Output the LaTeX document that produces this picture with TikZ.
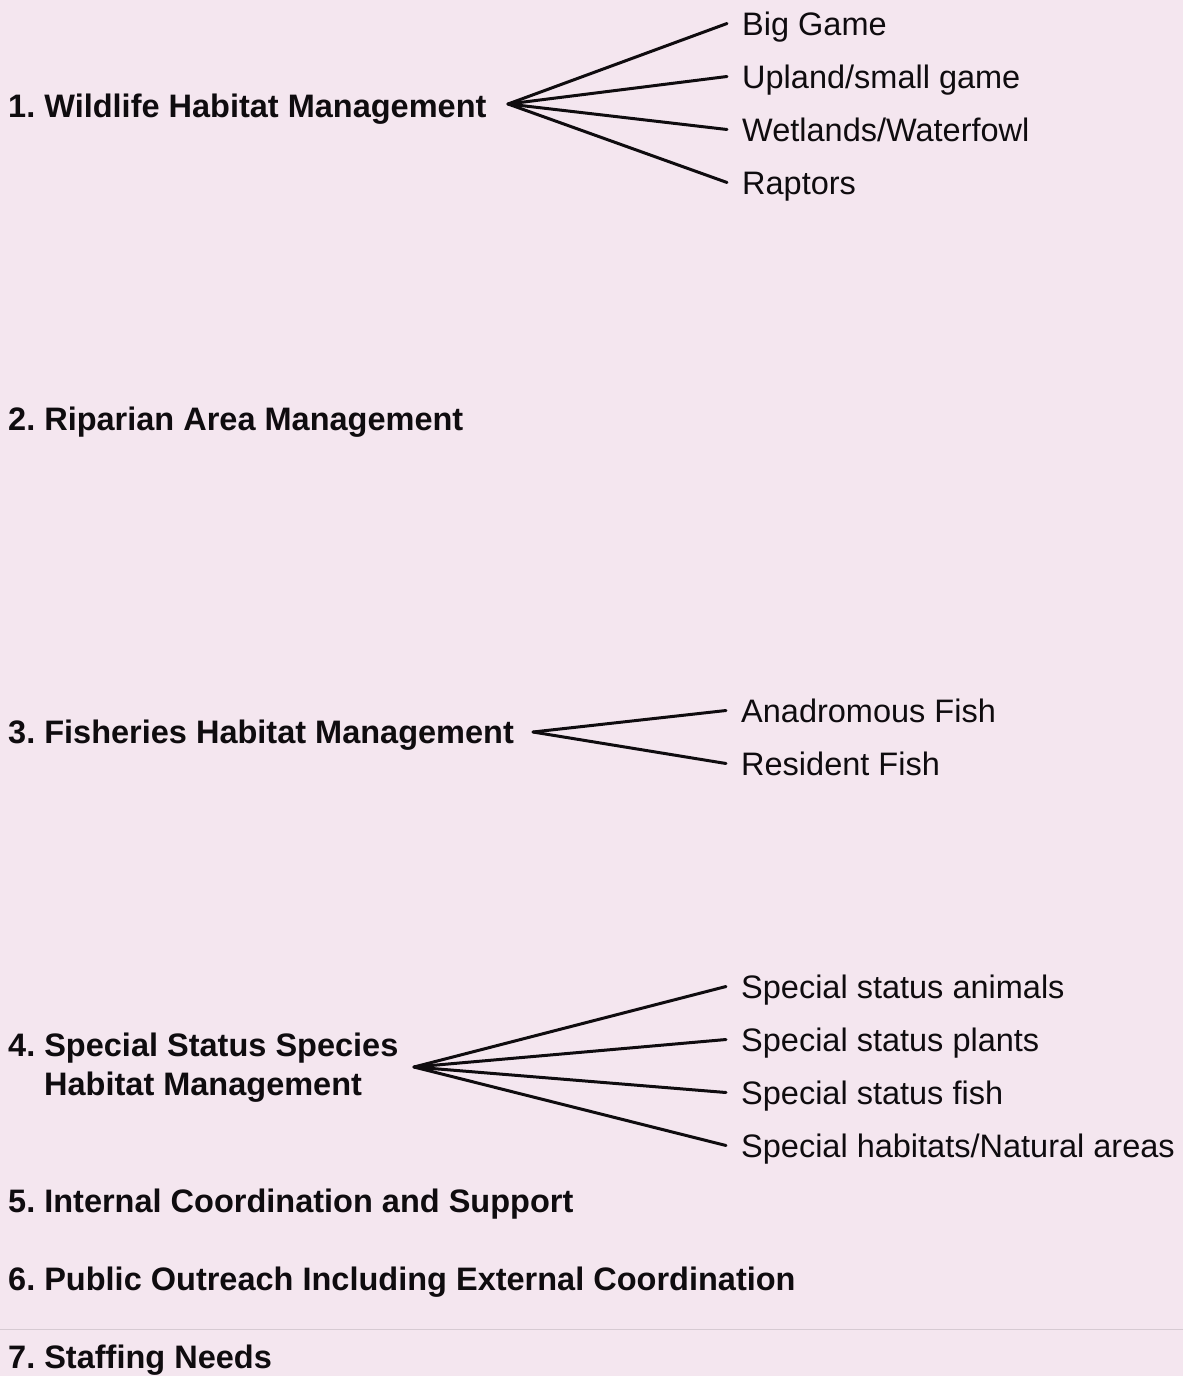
\documentclass[tikz,border=0pt]{standalone}
\usepackage{fontspec}
\setmainfont{Liberation Sans}
\definecolor{bgpink}{RGB}{244,230,239}
\definecolor{ink}{RGB}{15,12,15}
\definecolor{rule}{RGB}{214,202,210}
\frenchspacing
\begin{document}
\begin{tikzpicture}[x=1pt,y=-1pt,
  title/.style={anchor=base west,inner sep=0pt,text=ink,font=\fontsize{32.5}{39}\selectfont\bfseries,align=left},
  item/.style={anchor=base west,inner sep=0pt,text=ink,font=\fontsize{32.5}{39}\selectfont,text height=23pt,text depth=0pt},
  fan/.style={draw=ink,line width=3pt,line cap=round}]
\fill[bgpink] (0,0) rectangle (1183,1376);
\useasboundingbox (0,0) rectangle (1183,1376);
\draw[rule,line width=1pt] (0,1329) -- (1183,1329);

% titles
\node[title] (t1) at (8,117) {1. Wildlife Habitat Management};
\node[title] (t2) at (8,430) {2. Riparian Area Management};
\node[title] (t3) at (8,743) {3. Fisheries Habitat Management};
\node[title] (t4) at (8,1056) {4. Special Status Species};
\node[title] (t4b) at (44,1095) {Habitat Management};
\node[title] (t5) at (8,1212) {5. Internal Coordination and Support};
\node[title] (t6) at (8,1290) {6. Public Outreach Including External Coordination};
\node[title] (t7) at (8,1368) {7. Staffing Needs};

% items
\node[item] (a1) at (742,35) {Big Game};
\node[item] (a2) at (742,88) {Upland/small game};
\node[item] (a3) at (742,141) {Wetlands/Waterfowl};
\node[item] (a4) at (742,194) {Raptors};
\node[item] (b1) at (741,722) {Anadromous Fish};
\node[item] (b2) at (741,775) {Resident Fish};
\node[item] (c1) at (741,998) {Special status animals};
\node[item] (c2) at (741,1051) {Special status plants};
\node[item] (c3) at (741,1104) {Special status fish};
\node[item] (c4) at (741,1157) {Special habitats/Natural areas};

% fan origins
\coordinate (f1) at (508,104);
\coordinate (f3) at (533,732);
\coordinate (f4) at (414,1067);

\foreach \n in {a1,a2,a3,a4} \draw[fan] (f1) -- ([xshift=-15pt]\n.west);
\foreach \n in {b1,b2} \draw[fan] (f3) -- ([xshift=-15pt]\n.west);
\foreach \n in {c1,c2,c3,c4} \draw[fan] (f4) -- ([xshift=-15pt]\n.west);
\end{tikzpicture}
\end{document}
